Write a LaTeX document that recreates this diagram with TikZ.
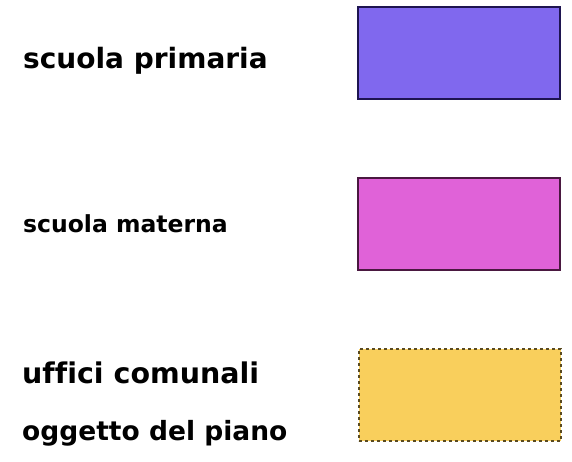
\documentclass[tikz,border=0pt]{standalone}
\usepackage{fontspec}
\setmainfont{DejaVu Sans}[Ligatures=NoCommon]
\usepackage{xcolor}
\usepackage{tikz}
\usetikzlibrary{positioning}
\definecolor{prim}{HTML}{8068EE}
\definecolor{primln}{HTML}{1E1450}
\definecolor{mat}{HTML}{E062D8}
\definecolor{matln}{HTML}{4A1840}
\definecolor{uff}{HTML}{F9CF5C}
\definecolor{uffln}{HTML}{5A4A20}
\tikzset{
  swatch/.style={draw,line width=1.6pt,minimum width=202pt,minimum height=92pt,inner sep=0pt,anchor=north west},
  lbl/.style={font=\bfseries\fontsize{28}{32}\selectfont,anchor=base west,inner sep=0pt},
}

\begin{document}
\begin{tikzpicture}[x=1pt,y=-1pt]
\useasboundingbox (0,0) rectangle (572,461);
\node[swatch,fill=prim,draw=primln] (sp) at (357,6) {};
\node[swatch,fill=mat,draw=matln] (sm) at (357,177) {};
\node[swatch,fill=uff,draw=uffln,dashed] (uc) at (358,348) {};
\node[lbl] (tp) at (23,68) {scuola primaria};
\node[lbl,font=\bfseries\fontsize{23.5}{26}\selectfont] (tm) at (23,232) {scuola materna};
\node[lbl,font=\bfseries\fontsize{28.5}{32}\selectfont] (tu) at (22,383) {uffici comunali};
\node[lbl,font=\bfseries\fontsize{26.5}{30}\selectfont] (to) at (22,440) {oggetto del piano};
\end{tikzpicture}
\end{document}
